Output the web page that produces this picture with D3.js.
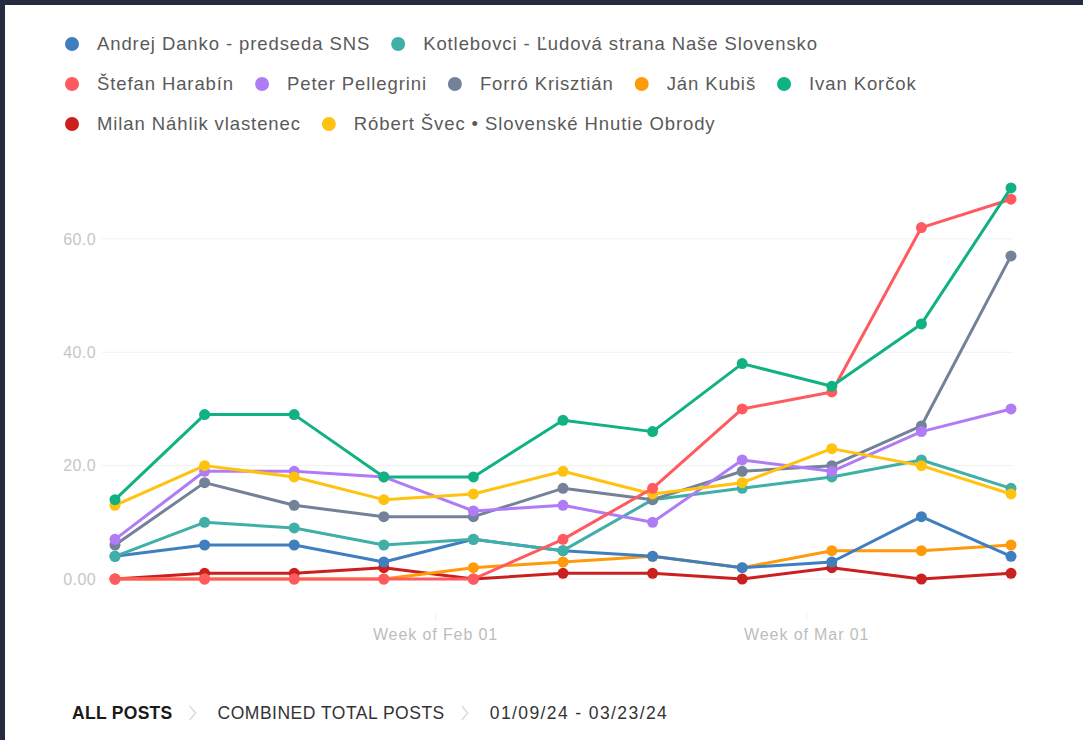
<!DOCTYPE html>
<html>
<head>
<meta charset="utf-8">
<script src="https://cdn.jsdelivr.net/npm/d3@7"></script>
<style>
  html, body { margin: 0; padding: 0; background: #252c40; }
  #wrap { position: absolute; left: 5px; top: 5px; width: 1078px; height: 735px; background: #fff; }
  svg { display: block; }
  text { font-family: "Helvetica Neue", "Liberation Sans", Arial, sans-serif; }
</style>
</head>
<body>
<div id="wrap"></div>
<script>
const weeks = ["2024-01-07","2024-01-14","2024-01-21","2024-01-28","2024-02-04","2024-02-11","2024-02-18","2024-02-25","2024-03-03","2024-03-10","2024-03-17"];
const seriesNames = [
  "Andrej Danko - predseda SNS",
  "Kotlebovci - Ľudová strana Naše Slovensko",
  "Štefan Harabín",
  "Peter Pellegrini",
  "Forró Krisztián",
  "Ján Kubiš",
  "Ivan Korčok",
  "Milan Náhlik vlastenec",
  "Róbert Švec • Slovenské Hnutie Obrody"
];
const seriesColors = ["#3f7fbf","#40afa8","#ff5a5f","#b07cf5","#738299","#ff9a0a","#10b283","#cc1f1f","#ffc20e"];
const danko      = [4, 6, 6, 3, 7, 5, 4, 2, 3, 11, 4];
const kotlebovci = [4, 10, 9, 6, 7, 5, 14, 16, 18, 21, 16];
const harabin    = [0, 0, 0, 0, 0, 7, 16, 30, 33, 62, 67];
const pellegrini = [7, 19, 19, 18, 12, 13, 10, 21, 19, 26, 30];
const forro      = [6, 17, 13, 11, 11, 16, 14, 19, 20, 27, 57];
const kubis      = [0, 0, 0, 0, 2, 3, 4, 2, 5, 5, 6];
const korcok     = [14, 29, 29, 18, 18, 28, 26, 38, 34, 45, 69];
const nahlik     = [0, 1, 1, 2, 0, 1, 1, 0, 2, 0, 1];
const svec       = [13, 20, 18, 14, 15, 19, 15, 17, 23, 20, 15];
const seriesValues = [danko, kotlebovci, harabin, pellegrini, forro, kubis, korcok, nahlik, svec];
const yTicks = [0, 20, 40, 60];
const yTickLabels = ["0.00", "20.0", "40.0", "60.0"];
const xTicks = ["2024-02-01", "2024-03-01"];
const xTickLabels = ["Week of Feb 01", "Week of Mar 01"];
const crumbs = ["ALL POSTS", "COMBINED TOTAL POSTS", "01/09/24 - 03/23/24"];
// draw order (back to front)
const drawOrder = [7, 5, 0, 1, 4, 3, 8, 2, 6];

const ox = 5, oy = 5; // wrapper offset
const W = 1078, H = 735;
const FONT = "'Helvetica Neue', 'Liberation Sans', Arial, sans-serif";
const svg = d3.select("#wrap").append("svg").attr("width", W).attr("height", H);
const g = svg.append("g").attr("transform", `translate(${-ox},${-oy})`);

const parse = d3.timeParse("%Y-%m-%d");
const dates = weeks.map(parse);
const x = d3.scaleTime().domain([dates[0], dates[dates.length - 1]]).range([115, 1011]);
const y = d3.scaleLinear().domain([0, 60]).range([579, 238.9]);

// gridlines
g.append("g").selectAll("line").data(yTicks).join("line")
  .attr("x1", 102).attr("x2", 1013)
  .attr("y1", d => y(d)).attr("y2", d => y(d))
  .attr("stroke", "#f1f1f1").attr("stroke-width", 1);

// y axis
const yAxis = d3.axisLeft(y).tickValues(yTicks).tickSize(0).tickPadding(0)
  .tickFormat((d, i) => yTickLabels[i]);
const ya = g.append("g").attr("transform", "translate(96,0)").call(yAxis);
ya.select(".domain").remove();
ya.selectAll("text").attr("fill", "#c6c6c6").attr("font-size", 16)
  .attr("letter-spacing", 0.4).attr("font-family", FONT);

// x axis
const xAxis = d3.axisBottom(x).tickValues(xTicks.map(parse)).tickSize(9).tickPadding(8)
  .tickFormat((d, i) => xTickLabels[i]);
const xa = g.append("g").attr("transform", "translate(0,612)").call(xAxis);
xa.select(".domain").remove();
xa.selectAll("line").attr("stroke", "#f2f2f2");
xa.selectAll("text").attr("fill", "#bdbdbd").attr("font-size", 16)
  .attr("letter-spacing", 0.9).attr("font-family", FONT);

// lines
const line = d3.line().x((d, i) => x(dates[i])).y(d => y(d));
const series = g.append("g").selectAll("g").data(drawOrder).join("g");
series.append("path")
  .attr("d", k => line(seriesValues[k]))
  .attr("fill", "none").attr("stroke", k => seriesColors[k])
  .attr("stroke-width", 3).attr("stroke-linejoin", "round");
series.selectAll("circle").data(k => seriesValues[k].map(v => ({v, k}))).join("circle")
  .attr("cx", (d, i) => x(dates[i])).attr("cy", d => y(d.v)).attr("r", 5.5)
  .attr("fill", d => seriesColors[d.k]);

// legend
const legend = g.append("g");
let lx = 72, ly = 44;
const maxX = 960;
seriesNames.forEach((name, i) => {
  const item = legend.append("g");
  const t = item.append("text").text(name).attr("x", 25).attr("dy", "0.35em")
    .attr("fill", "#5a5a5a").attr("font-size", 18.5).attr("letter-spacing", 0.9);
  const w = t.node().getComputedTextLength();
  if (lx + 25 + w > maxX && lx > 72) { lx = 72; ly += 40; }
  item.attr("transform", `translate(${lx},${ly})`);
  item.append("circle").attr("r", 7).attr("fill", seriesColors[i]);
  lx += 25 + w + 28;
});

// breadcrumbs
const crumbSpacing = [0.3, 0.5, 1.4];
const bc = g.append("g").attr("transform", "translate(72,713)");
let bx = 0;
crumbs.forEach((c, i) => {
  const t = bc.append("text").text(c).attr("x", bx).attr("dy", "0.35em")
    .attr("font-size", 17.5).attr("fill", i === 0 ? "#1a1a1a" : "#333")
    .attr("letter-spacing", crumbSpacing[i])
    .attr("font-weight", i === 0 ? 600 : 500);
  bx += t.node().getComputedTextLength();
  if (i < crumbs.length - 1) {
    bc.append("path").attr("d", `M${bx + 17},-7 L${bx + 23},0 L${bx + 17},7`)
      .attr("fill", "none").attr("stroke", "#d8d8d8").attr("stroke-width", 1.3);
    bx += 45;
  }
});
</script>
</body>
</html>
